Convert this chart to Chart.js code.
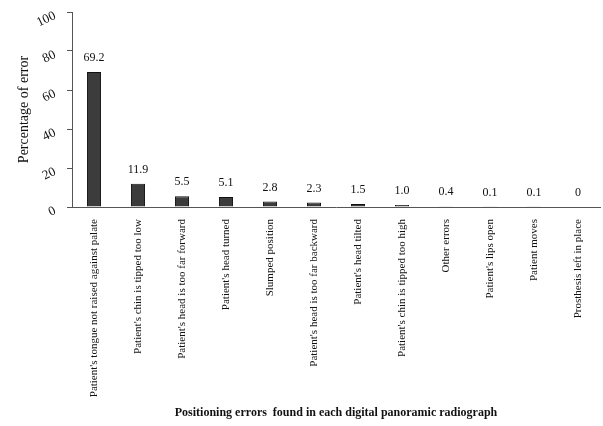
<!DOCTYPE html>
<html>
<head>
<meta charset="utf-8">
<script src="https://cdn.jsdelivr.net/npm/chart.js@4/dist/chart.umd.min.js"></script>
<style>
  html, body { margin: 0; padding: 0; background: #fff; }
  #wrap { width: 603px; height: 426px; position: relative; }
</style>
</head>
<body>
<div id="wrap"><canvas id="errors-chart"></canvas></div>
<script>
// positioning errors, percent of radiographs
const errorLabels = [
    "Patient's tongue not raised against palate",
    "Patient's chin is tipped too low",
    "Patient's head is too far forward",
    "Patient's head turned",
    "Slumped position",
    "Patient's head is too far backward",
    "Patient's head tilted",
    "Patient's chin is tipped too high",
    "Other errors",
    "Patient's lips open",
    "Patient moves",
    "Prosthesis left in place"
]

const errorPercent = [69.2, 11.9, 5.5, 5.1, 2.8, 2.3, 1.5, 1.0, 0.4, 0.1, 0.1, 0]

// printed value above each bar
const valueText = ["69.2", "11.9", "5.5", "5.1", "2.8", "2.3", "1.5", "1.0", "0.4", "0.1", "0.1", "0"]

const yTicks = [0, 20, 40, 60, 80, 100]

const serif = "'Liberation Serif', 'DejaVu Serif', serif";

// value labels over the bars
const barValues = {
    id: "barValues",
    afterDatasetsDraw(chart) {
        const ctx = chart.ctx;
        const meta = chart.getDatasetMeta(0);
        ctx.save();
        ctx.font = "12px " + serif;
        ctx.fillStyle = "#111";
        ctx.textAlign = "center";
        ctx.textBaseline = "bottom";
        meta.data.forEach((bar, i) => {
            ctx.fillText(valueText[i], bar.x, bar.y - 8);
        });
        ctx.restore();
    }
};

// slanted y tick numbers
const slantTicks = {
    id: "slantTicks",
    afterDraw(chart) {
        const ctx = chart.ctx;
        const y = chart.scales.y;
        ctx.save();
        ctx.font = "13px " + serif;
        ctx.fillStyle = "#111";
        ctx.textAlign = "right";
        ctx.textBaseline = "middle";
        yTicks.forEach(v => {
            ctx.save();
            ctx.translate(y.right - 17, y.getPixelForValue(v) + 3);
            ctx.rotate(-0.45);
            ctx.fillText(String(v), 0, 0);
            ctx.restore();
        });
        ctx.restore();
    }
};

new Chart("errors-chart", {
    type: "bar",
    data: {
        labels: errorLabels,
        datasets: [{
            data: errorPercent,
            backgroundColor: "#3c3c3c",
            borderColor: "#111",
            borderWidth: 1,
            categoryPercentage: 1,
            barPercentage: 0.32
        }]
    },
    options: {
        responsive: true,
        maintainAspectRatio: false,
        animation: false,
        layout: { padding: { left: 16, right: 3, top: 12, bottom: 4 } },
        plugins: {
            legend: { display: false },
            tooltip: { enabled: false }
        },
        scales: {
            x: {
                grid: { display: false },
                border: { color: "#555", width: 1 },
                ticks: {
                    color: "#111",
                    font: { family: serif, size: 11 },
                    minRotation: 90,
                    maxRotation: 90,
                    padding: 4,
                    autoSkip: false
                },
                title: {
                    display: true,
                    text: "Positioning errors  found in each digital panoramic radiograph",
                    color: "#111",
                    font: { family: serif, size: 12, weight: "bold" },
                    padding: { top: 0, bottom: 2 }
                },
                afterFit: s => { s.height = 426 - 207 - 4; }
            },
            y: {
                min: 0,
                max: 100,
                grid: {
                    drawOnChartArea: false,
                    tickLength: 5,
                    color: "#555"
                },
                border: { color: "#555", width: 1 },
                ticks: {
                    stepSize: 20,
                    color: "rgba(0,0,0,0)",
                    font: { family: serif, size: 13 }
                },
                title: {
                    display: true,
                    text: "Percentage of error",
                    color: "#111",
                    font: { family: serif, size: 14 },
                    padding: 0
                },
                afterFit: s => { s.width = 72 - 16; }
            }
        }
    },
    plugins: [barValues, slantTicks]
});
</script>
</body>
</html>
